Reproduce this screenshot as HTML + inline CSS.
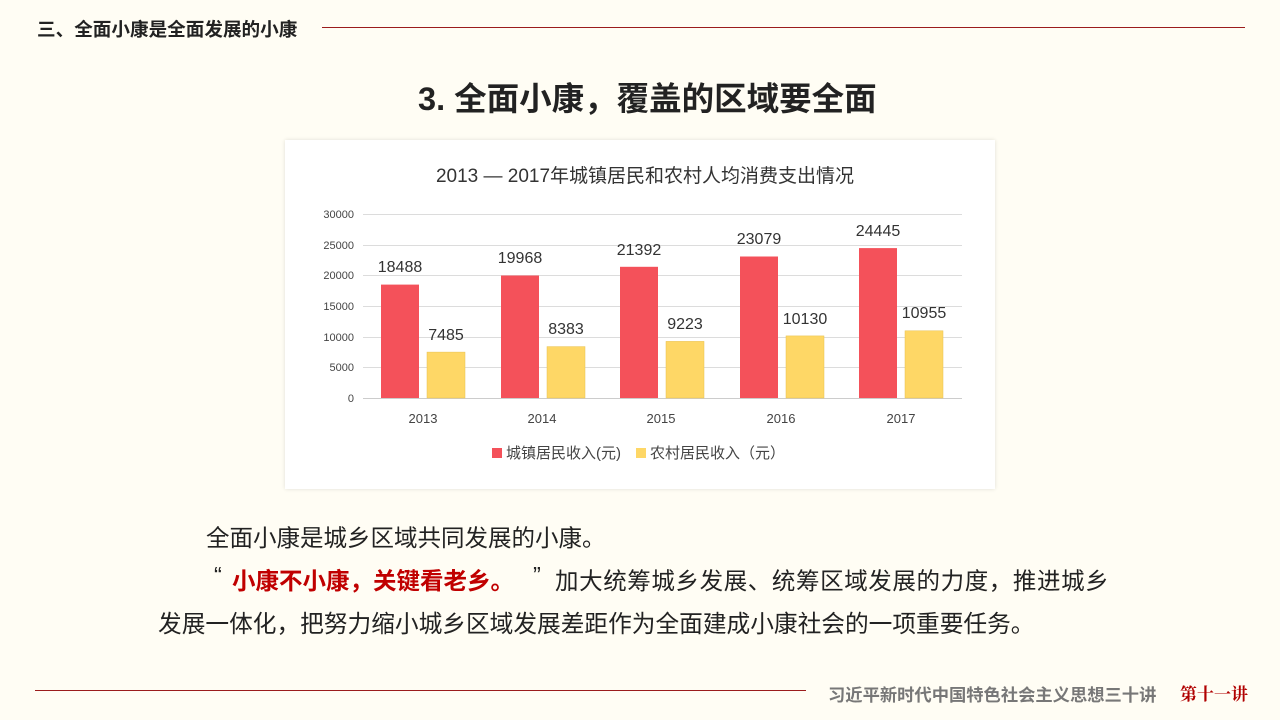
<!DOCTYPE html>
<html><head><meta charset="utf-8"><style>
body{margin:0;width:1280px;height:720px;background:#fffdf4;position:relative;overflow:hidden;font-family:"Liberation Sans","Noto Sans CJK SC",sans-serif;}
.a{position:absolute;white-space:nowrap;}
</style></head><body>
<div class="a" style="left:37px;top:15px;font-size:18.6px;font-weight:bold;color:#222;">三、全面小康是全面发展的小康</div>
<div class="a" style="left:322px;top:27px;width:923px;height:1px;background:#9b1c1c;"></div>
<div class="a" style="left:418px;top:73px;font-size:32.5px;font-weight:bold;color:#222;">3. 全面小康，覆盖的区域要全面</div>
<div class="a" style="left:285px;top:140px;width:710px;height:349px;background:#fff;box-shadow:0 0 4px rgba(0,0,0,0.12);"></div>
<svg class="a" style="left:0;top:0" width="1280" height="720" font-family="Liberation Sans, Noto Sans CJK SC, sans-serif">
<text x="645" y="182" font-size="19" fill="#333" text-anchor="middle">2013 — 2017年城镇居民和农村人均消费支出情况</text>
<g stroke="#dcdcdc" stroke-width="1">
<line x1="363" x2="962" y1="214.5" y2="214.5"/><line x1="363" x2="962" y1="245.5" y2="245.5"/>
<line x1="363" x2="962" y1="275.5" y2="275.5"/><line x1="363" x2="962" y1="306.5" y2="306.5"/>
<line x1="363" x2="962" y1="337.5" y2="337.5"/><line x1="363" x2="962" y1="367.5" y2="367.5"/>
<line x1="363" x2="962" y1="398.5" y2="398.5" stroke="#ccc"/>
</g>
<g font-size="11" fill="#444" text-anchor="end">
<text x="354" y="218">30000</text><text x="354" y="249">25000</text><text x="354" y="279">20000</text>
<text x="354" y="310">15000</text><text x="354" y="341">10000</text><text x="354" y="371">5000</text><text x="354" y="402">0</text>
</g>
<g fill="#f4515a">
<rect x="381" y="284.6" width="38" height="113.4"/>
<rect x="501" y="275.5" width="38" height="122.5"/>
<rect x="620" y="266.8" width="38" height="131.2"/>
<rect x="740" y="256.5" width="38" height="141.5"/>
<rect x="859" y="248.1" width="38" height="149.9"/>
</g>
<g fill="#fed766" stroke="#e8c050" stroke-width="0.5">
<rect x="427" y="352.1" width="38" height="45.9"/>
<rect x="547" y="346.6" width="38" height="51.4"/>
<rect x="666" y="341.4" width="38" height="56.6"/>
<rect x="786" y="335.9" width="38" height="62.1"/>
<rect x="905" y="330.8" width="38" height="67.2"/>
</g>
<g font-size="16" fill="#333" text-anchor="middle">
<text x="400" y="272">18488</text><text x="520" y="263">19968</text><text x="639" y="255">21392</text>
<text x="759" y="244">23079</text><text x="878" y="236">24445</text>
<text x="446" y="340">7485</text><text x="566" y="334">8383</text><text x="685" y="329">9223</text>
<text x="805" y="324">10130</text><text x="924" y="318">10955</text>
</g>
<g font-size="13" fill="#444" text-anchor="middle">
<text x="423" y="423">2013</text><text x="542" y="423">2014</text><text x="661" y="423">2015</text>
<text x="781" y="423">2016</text><text x="901" y="423">2017</text>
</g>
<rect x="492" y="448" width="10" height="10" fill="#f4515a"/>
<text x="506" y="458" font-size="15" fill="#444">城镇居民收入(元)</text>
<rect x="636" y="448" width="10" height="10" fill="#fed766"/>
<text x="650" y="458" font-size="15" fill="#444">农村居民收入（元）</text>
</svg>
<div class="a" style="left:206px;top:519px;font-size:23.5px;color:#222;">全面小康是城乡区域共同发展的小康。</div>
<div class="a" style="left:214px;top:562px;font-size:23.5px;color:#222;">“</div>
<div class="a" style="left:232px;top:562px;font-size:23.5px;color:#c00000;font-weight:bold;">小康不小康，关键看老乡。</div>
<div class="a" style="left:533px;top:562px;font-size:23.5px;color:#222;">”</div>
<div class="a" style="left:555px;top:562px;font-size:23.5px;color:#222;letter-spacing:0.6px;">加大统筹城乡发展、统筹区域发展的力度，推进城乡</div>
<div class="a" style="left:158px;top:605px;font-size:23.7px;color:#222;">发展一体化，把努力缩小城乡区域发展差距作为全面建成小康社会的一项重要任务。</div>
<div class="a" style="left:35px;top:690px;width:771px;height:1px;background:#9b1c1c;"></div>
<div class="a" style="left:828px;top:681px;font-size:17.3px;font-weight:bold;color:#777;">习近平新时代中国特色社会主义思想三十讲</div>
<div class="a" style="left:1180px;top:680px;font-size:17px;font-weight:bold;color:#b00000;font-family:'Noto Serif CJK SC',serif;">第十一讲</div>
</body></html>
